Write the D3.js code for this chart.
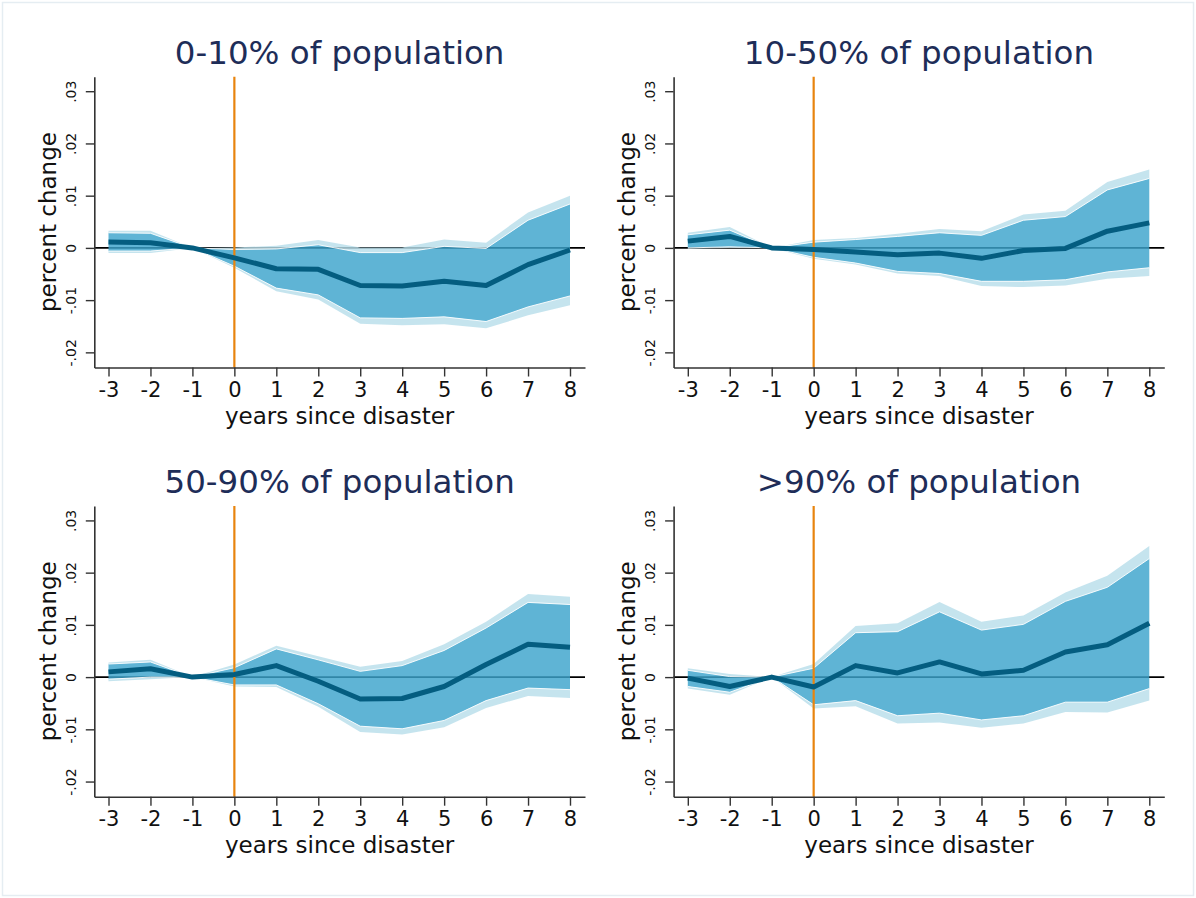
<!DOCTYPE html>
<html>
<head>
<meta charset="utf-8">
<script src="https://cdn.jsdelivr.net/npm/d3@7"></script>
<style>
  html, body { margin: 0; padding: 0; background: #ffffff; }
  svg { display: block; font-family: "DejaVu Sans", sans-serif; }
</style>
</head>
<body>
<svg id="chart" width="1196" height="898"></svg>
<script>
// ---------------- DATA ----------------
const titles = ["0-10% of population", "10-50% of population", "50-90% of population", ">90% of population"];
const years = [-3, -2, -1, 0, 1, 2, 3, 4, 5, 6, 7, 8];
const yTicks = [-0.02, -0.01, 0, 0.01, 0.02, 0.03];
const yTickLabels = ["-.02", "-.01", "0", ".01", ".02", ".03"];
const xTitle = "years since disaster";
const yTitle = "percent change";

// Panel 1: 0-10%
const coef1    = [0.00115, 0.0010, 0, -0.0019, -0.0040, -0.0041, -0.0072, -0.0073, -0.0064, -0.0072, -0.0032, -0.0004];
const innerHi1 = [0.0029, 0.0028, 0, -0.0003, -0.0002, 0.0006, -0.0009, -0.0009, 0.0003, -0.0001, 0.0053, 0.0084];
const innerLo1 = [-0.0006, -0.0006, 0, -0.0035, -0.0077, -0.0090, -0.0134, -0.0135, -0.0132, -0.0141, -0.0113, -0.0092];
const outerHi1 = [0.0033, 0.0033, 0, 0.0001, 0.0004, 0.0015, 0.0001, 0.0001, 0.0016, 0.0010, 0.0068, 0.0100];
const outerLo1 = [-0.0010, -0.0010, 0, -0.0038, -0.0083, -0.0099, -0.0145, -0.0148, -0.0146, -0.0154, -0.0129, -0.0110];

// Panel 2: 10-50%
const coef2    = [0.0013, 0.0022, 0, -0.0003, -0.0008, -0.0013, -0.0010, -0.0020, -0.0005, -0.0001, 0.0032, 0.0048];
const innerHi2 = [0.0025, 0.0034, 0, 0.0011, 0.0016, 0.0022, 0.0029, 0.0024, 0.0053, 0.0060, 0.0111, 0.0133];
const innerLo2 = [0.0000, 0.0002, 0, -0.0018, -0.0029, -0.0045, -0.0049, -0.0064, -0.0064, -0.0061, -0.0046, -0.0038];
const outerHi2 = [0.0029, 0.0040, 0, 0.0015, 0.0019, 0.0027, 0.0036, 0.0032, 0.0064, 0.0071, 0.0126, 0.0150];
const outerLo2 = [-0.0001, 0.0000, 0, -0.0021, -0.0032, -0.0049, -0.0054, -0.0073, -0.0075, -0.0072, -0.0059, -0.0054];

// Panel 3: 50-90%
const coef3    = [0.0010, 0.0016, 0, 0.0005, 0.0022, -0.0008, -0.0042, -0.0041, -0.0018, 0.0024, 0.0063, 0.0057];
const innerHi3 = [0.0025, 0.0029, 0, 0.0018, 0.0054, 0.0033, 0.0011, 0.0022, 0.0051, 0.0094, 0.0143, 0.0139];
const innerLo3 = [-0.0004, 0.0000, 0, -0.0015, -0.0015, -0.0051, -0.0094, -0.0099, -0.0083, -0.0045, -0.0021, -0.0024];
const outerHi3 = [0.0028, 0.0033, 0, 0.0024, 0.0060, 0.0040, 0.0020, 0.0031, 0.0063, 0.0106, 0.0159, 0.0154];
const outerLo3 = [-0.0008, -0.0004, 0, -0.0018, -0.0019, -0.0057, -0.0105, -0.0110, -0.0096, -0.0059, -0.0036, -0.0040];

// Panel 4: >90%
const coef4    = [-0.0002, -0.0018, 0, -0.0019, 0.0022, 0.0008, 0.0029, 0.0006, 0.0013, 0.0048, 0.0062, 0.0103];
const innerHi4 = [0.0013, 0.0001, 0, 0.0017, 0.0085, 0.0087, 0.0125, 0.0090, 0.0101, 0.0145, 0.0172, 0.0227];
const innerLo4 = [-0.0018, -0.0029, 0, -0.0053, -0.0045, -0.0074, -0.0069, -0.0082, -0.0074, -0.0048, -0.0048, -0.0022];
const outerHi4 = [0.0017, 0.0006, 0, 0.0025, 0.0098, 0.0103, 0.0144, 0.0106, 0.0118, 0.0162, 0.0194, 0.0251];
const outerLo4 = [-0.0022, -0.0034, 0, -0.0060, -0.0056, -0.0089, -0.0087, -0.0097, -0.0089, -0.0067, -0.0068, -0.0045];

const panels = [
  { title: titles[0], coef: coef1, iHi: innerHi1, iLo: innerLo1, oHi: outerHi1, oLo: outerLo1 },
  { title: titles[1], coef: coef2, iHi: innerHi2, iLo: innerLo2, oHi: outerHi2, oLo: outerLo2 },
  { title: titles[2], coef: coef3, iHi: innerHi3, iLo: innerLo3, oHi: outerHi3, oLo: outerLo3 },
  { title: titles[3], coef: coef4, iHi: innerHi4, iLo: innerLo4, oHi: outerHi4, oLo: outerLo4 }
];

// ---------------- LAYOUT ----------------
const svg = d3.select("#chart");
const W = 1196, H = 898;

svg.append("rect").attr("x", 0).attr("y", 0).attr("width", W).attr("height", H).attr("fill", "#ffffff");
svg.append("rect").attr("x", 2.5).attr("y", 2.5).attr("width", W - 5).attr("height", H - 5)
  .attr("fill", "none").attr("stroke", "#e5edf2").attr("stroke-width", 1.5);

const offX = [0, 579.3];
const offY = [0, 429.2];
const plotL = 94.3, plotR = 585, plotT = 76.7, plotB = 367.5;

const colInner = "rgb(60,164,204)";
const colOuter = "rgb(184,222,234)";
const bandOpacity = 0.82;

panels.forEach((p, i) => {
  const dx = offX[i % 2], dy = offY[Math.floor(i / 2)];
  const g = svg.append("g");

  const x = d3.scaleLinear().domain([-3.3385, 8.3576]).range([plotL + dx, plotR + dx]);
  const y = d3.scaleLinear().domain([-0.0229, 0.03278]).range([plotB + dy, plotT + dy]);

  const rows = years.map((yr, k) => ({ yr, c: p.coef[k], iHi: p.iHi[k], iLo: p.iLo[k], oHi: p.oHi[k], oLo: p.oLo[k] }));

  // zero reference line (under bands)
  g.append("line")
    .attr("x1", x.range()[0]).attr("x2", x.range()[1])
    .attr("y1", y(0)).attr("y2", y(0))
    .attr("stroke", "#000").attr("stroke-width", 1.6);

  // outer band strips
  const upperStrip = d3.area().x(d => x(d.yr)).y0(d => y(d.iHi)).y1(d => y(d.oHi));
  const lowerStrip = d3.area().x(d => x(d.yr)).y0(d => y(d.oLo)).y1(d => y(d.iLo));
  g.append("path").datum(rows).attr("d", upperStrip)
    .attr("fill", colOuter).attr("fill-opacity", bandOpacity);
  g.append("path").datum(rows).attr("d", lowerStrip)
    .attr("fill", colOuter).attr("fill-opacity", bandOpacity);

  // inner band
  const innerArea = d3.area().x(d => x(d.yr)).y0(d => y(d.iLo)).y1(d => y(d.iHi));
  g.append("path").datum(rows).attr("d", innerArea)
    .attr("fill", colInner).attr("fill-opacity", bandOpacity);

  // white edges of inner band
  const hiLine = d3.line().x(d => x(d.yr)).y(d => y(d.iHi));
  const loLine = d3.line().x(d => x(d.yr)).y(d => y(d.iLo));
  [hiLine, loLine].forEach(ln => {
    g.append("path").datum(rows).attr("d", ln)
      .attr("fill", "none").attr("stroke", "#ffffff").attr("stroke-width", 1).attr("stroke-opacity", 0.9);
  });

  // vertical line at 0
  g.append("line")
    .attr("x1", x(0)).attr("x2", x(0))
    .attr("y1", plotT + dy).attr("y2", plotB + dy)
    .attr("stroke", "#e8840e").attr("stroke-width", 2.2);

  // main estimate line
  const mainLine = d3.line().x(d => x(d.yr)).y(d => y(d.c));
  g.append("path").datum(rows).attr("d", mainLine)
    .attr("fill", "none").attr("stroke", "#045d80").attr("stroke-width", 5)
    .attr("stroke-linejoin", "round");

  // x axis
  const xAxis = d3.axisBottom(x).tickValues(years).tickFormat(d3.format("d"))
    .tickSizeInner(9).tickSizeOuter(0);
  const gx = g.append("g").attr("transform", `translate(0,${plotB + dy})`).call(xAxis);
  gx.select(".domain").attr("stroke", "#333").attr("stroke-width", 1.6);
  gx.selectAll(".tick line").attr("stroke", "#333").attr("stroke-width", 1.4);
  gx.selectAll(".tick text")
    .attr("y", 29.8).attr("dy", 0)
    .attr("font-size", 21).attr("fill", "#111")
    .attr("font-family", "DejaVu Sans, sans-serif")
    .text(d => d < 0 ? "-" + Math.abs(d) : String(d));

  // y axis
  const yAxis = d3.axisLeft(y).tickValues(yTicks)
    .tickFormat((d, k) => yTickLabels[k])
    .tickSizeInner(8.5).tickSizeOuter(0);
  const gy = g.append("g").attr("transform", `translate(${plotL + dx},0)`).call(yAxis);
  gy.select(".domain").attr("stroke", "#333").attr("stroke-width", 1.6);
  gy.selectAll(".tick line").attr("stroke", "#333").attr("stroke-width", 1.4);
  gy.selectAll(".tick text")
    .attr("transform", "rotate(-90)")
    .attr("x", 0).attr("y", -18.2).attr("dy", 0)
    .attr("text-anchor", "middle")
    .attr("font-size", 14).attr("fill", "#111")
    .attr("font-family", "DejaVu Sans, sans-serif");

  const cx = (plotL + plotR) / 2 + dx;
  const cy = (plotT + plotB) / 2 + dy;

  // axis titles
  g.append("text")
    .attr("x", cx).attr("y", plotB + dy + 56.5)
    .attr("text-anchor", "middle").attr("font-size", 23).attr("fill", "#111")
    .text(xTitle);
  g.append("text")
    .attr("transform", `translate(${56 + dx},${cy}) rotate(-90)`)
    .attr("text-anchor", "middle").attr("font-size", 23).attr("fill", "#111")
    .text(yTitle);

  // panel title
  g.append("text")
    .attr("x", cx).attr("y", 63.5 + dy)
    .attr("text-anchor", "middle").attr("font-size", 32.5).attr("fill", "#1e2d58")
    .text(p.title);
});
</script>
</body>
</html>
